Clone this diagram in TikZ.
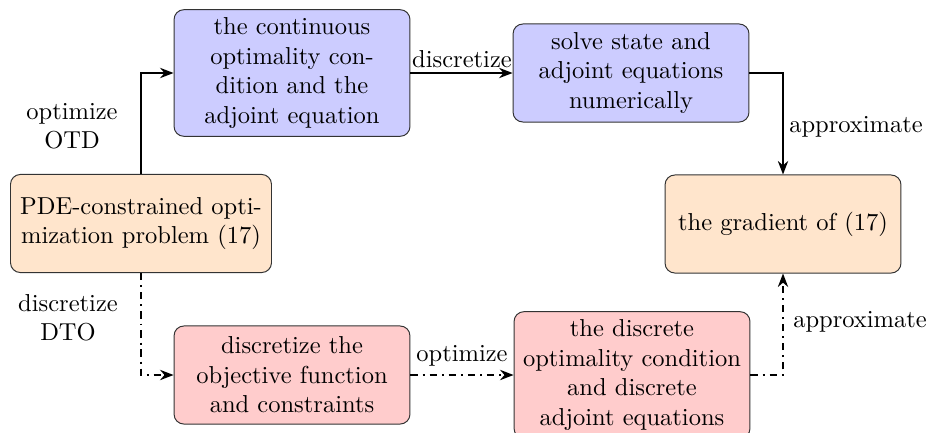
\documentclass[tikz,border=0pt]{standalone}
\usetikzlibrary{arrows.meta}
\begin{document}
\begin{tikzpicture}[x=0.408pt,y=-0.408pt,
  box/.style={draw=black!80, rounded corners=4pt, align=center, minimum height=40pt,
              inner xsep=2.6pt, text width=3.2cm},
  bluebox/.style={box, fill=blue!20},
  orangebox/.style={box, fill=orange!20},
  redbox/.style={box, fill=red!20},
  arr/.style={thick, -{Stealth[length=5.5pt,width=4.2pt]}},
  dda/.style={arr, dashdotted},
  lbl/.style={align=center, inner sep=1pt}]
\useasboundingbox (0,0) rectangle (928,432);

\node[orangebox, text width=3.56cm] (po) at (141,223.5) {PDE-constrained opti-\\mization problem (17)};
\node[bluebox] (c1) at (292,73) {the continuous\\optimality con-\\dition and the\\adjoint equation};
\node[bluebox] (c2) at (631,73) {solve state and\\adjoint equations\\numerically};
\node[orangebox] (gr) at (783,224) {the gradient of (17)};
\node[redbox] (d1) at (292,375) {discretize the\\objective function\\and constraints};
\node[redbox] (d2) at (632,375) {the discrete\\optimality condition\\and discrete\\adjoint equations};

\draw[arr] (po.north) |- (c1.west);
\draw[arr] (c1.east) -- (c2.west);
\draw[arr] (c2.east) -| (gr.north);
\draw[dda] (po.south) |- (d1.west);
\draw[dda] (d1.east) -- (d2.west);
\draw[dda] (d2.east) -| (gr.south);

\node[lbl] (l1) at (72,126) {optimize\\OTD};
\node[lbl] (l2) at (462,59) {discretize};
\node[lbl] (l3) at (856,127) {approximate};
\node[lbl] (l4) at (68,318) {discretize\\DTO};
\node[lbl] (l5) at (462,356) {optimize};
\node[lbl] (l6) at (860,322) {approximate};
\end{tikzpicture}
\end{document}
